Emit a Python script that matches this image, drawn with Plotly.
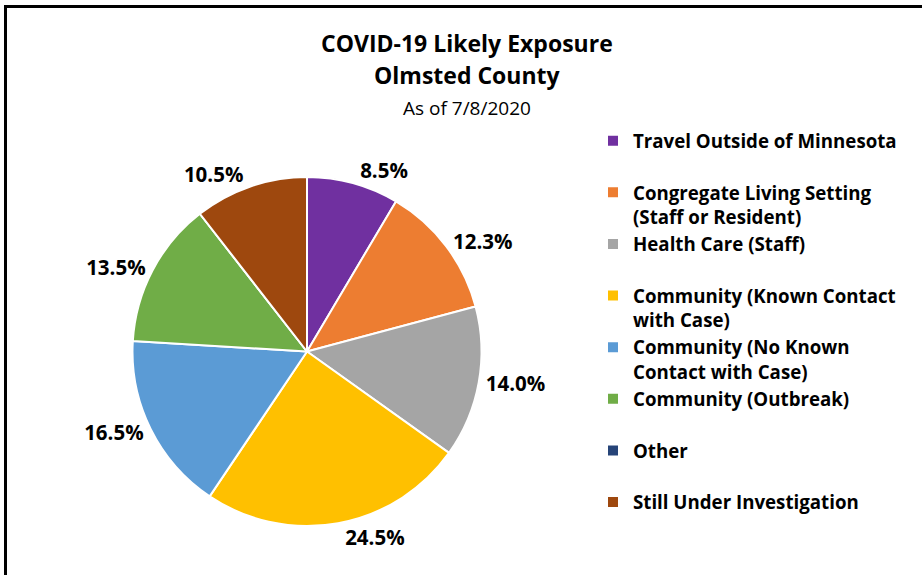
import plotly.graph_objects as go

categories = [
    "Travel Outside of Minnesota",
    "Congregate Living Setting<br>(Staff or Resident)",
    "Health Care (Staff)",
    "Community (Known Contact<br>with Case)",
    "Community (No Known<br>Contact with Case)",
    "Community (Outbreak)",
    "Other",
    "Still Under Investigation",
]
values = [8.5, 12.3, 14.0, 24.5, 16.5, 13.5, 0.0, 10.5]
colors = ["#7030A0", "#ED7D31", "#A5A5A5", "#FFC000", "#5B9BD5", "#70AD47", "#264478", "#9E480E"]

title_lines = ["COVID-19 Likely Exposure", "Olmsted County", "As of 7/8/2020"]

W, H = 922, 575
FONT = "'Open Sans', Lato, sans-serif"

# pad single-line legend labels to two lines so all entries have equal spacing
legend_labels = [c if "<br>" in c else c + "<br> " for c in categories]

fig = go.Figure()
fig.add_trace(go.Pie(
    labels=legend_labels,
    values=values,
    sort=False,
    direction="clockwise",
    rotation=0,
    marker=dict(colors=colors, line=dict(color="white", width=2)),
    texttemplate=["%{value:.1f}%" if v > 0 else "" for v in values],
    textposition="outside",
    textfont=dict(family=FONT, size=20.5, color="#000000", weight="bold"),
    hoverinfo="label+value",
    domain=dict(x=[132 / W, 482 / W], y=[1 - 526 / H, 1 - 177 / H]),
))

fig.update_layout(
    width=W, height=H,
    margin=dict(l=0, r=0, t=0, b=0),
    paper_bgcolor="white",
    plot_bgcolor="white",
    font=dict(family=FONT, color="#000000"),
    showlegend=True,
    legend=dict(
        x=593 / W, y=1 - 122 / H, xanchor="left", yanchor="top",
        valign="top",
        font=dict(family=FONT, size=18.7, color="#000000", weight="bold"),
        bgcolor="rgba(0,0,0,0)",
    ),
    annotations=[
        dict(text=title_lines[0], x=467 / W, y=1 - 43 / H, xref="paper", yref="paper",
             xanchor="center", yanchor="middle",
             showarrow=False, font=dict(family=FONT, size=23, weight="bold")),
        dict(text=title_lines[1], x=467 / W, y=1 - 75 / H, xref="paper", yref="paper",
             xanchor="center", yanchor="middle",
             showarrow=False, font=dict(family=FONT, size=23, weight="bold")),
        dict(text=title_lines[2], x=467 / W, y=1 - 108 / H, xref="paper", yref="paper",
             xanchor="center", yanchor="middle",
             showarrow=False, font=dict(family=FONT, size=19)),
    ],
    shapes=[
        dict(type="line", xref="paper", yref="paper", x0=4 / W, x1=1, y0=1 - 6.5 / H, y1=1 - 6.5 / H,
             line=dict(color="black", width=3)),
        dict(type="line", xref="paper", yref="paper", x0=5.5 / W, x1=5.5 / W, y0=0, y1=1 - 5 / H,
             line=dict(color="black", width=3)),
    ],
)

fig.write_html("out.html", config={"displayModeBar": False},
               post_script="document.body.style.margin='0';")
